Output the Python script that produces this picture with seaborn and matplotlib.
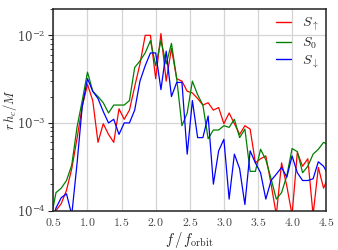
import matplotlib
matplotlib.use("Agg")
import matplotlib.pyplot as plt
import matplotlib.ticker as mticker
import numpy as np
import pandas as pd
import seaborn as sns

# frequency grid (f / f_orbit)
freq = [0.462, 0.538, 0.615, 0.692, 0.769, 0.846, 0.923, 1.0, 1.077, 1.154,
        1.231, 1.308, 1.385, 1.462, 1.538, 1.615, 1.692, 1.769, 1.846, 1.923,
        2.0, 2.077, 2.154, 2.231, 2.308, 2.385, 2.462, 2.538, 2.615, 2.692,
        2.769, 2.846, 2.923, 3.0, 3.077, 3.154, 3.231, 3.308, 3.385, 3.462,
        3.538, 3.615, 3.692, 3.769, 3.846, 3.923, 4.0, 4.077, 4.154, 4.231,
        4.308, 4.385, 4.462, 4.538]

s_up = [6.3e-5, 1.0e-4, 1.2e-4, 1.7e-4, 3.0e-4, 6.6e-4, 1.55e-3, 2.75e-3, 1.8e-3, 6.0e-4,
        9.8e-4, 7.4e-4, 6.0e-4, 1.45e-3, 1.1e-3, 1.4e-3, 2.6e-3, 4.7e-3, 1.0e-2, 1.0e-2,
        3.2e-3, 1.05e-2, 3.0e-3, 7.1e-3, 3.2e-3, 3.0e-3, 2.3e-3, 2.2e-3, 1.9e-3, 1.6e-3,
        1.7e-3, 1.4e-3, 1.5e-3, 9.8e-4, 1.3e-3, 9.8e-4, 7.4e-4, 9.3e-4, 8.5e-4, 3.5e-4,
        3.9e-4, 4.2e-4, 2.0e-4, 8.9e-5, 3.5e-4, 1.9e-4, 8.9e-5, 4.6e-4, 3.2e-4, 3.9e-4,
        8.9e-5, 3.1e-4, 1.8e-4, 2.5e-4]

s_zero = [7.9e-5, 1.6e-4, 1.8e-4, 2.2e-4, 3.3e-4, 8.9e-4, 1.8e-3, 3.8e-3, 2.3e-3, 2.0e-3,
          1.7e-3, 1.3e-3, 1.6e-3, 1.6e-3, 1.6e-3, 1.8e-3, 4.3e-3, 5.1e-3, 6.3e-3, 8.7e-3,
          4.5e-3, 8.7e-3, 4.7e-3, 8.1e-3, 3.2e-3, 9.3e-4, 1.3e-3, 3.0e-3, 2.1e-3, 1.6e-3,
          6.6e-4, 8.3e-4, 8.3e-4, 9.3e-4, 8.9e-4, 1.1e-3, 6.8e-4, 8.5e-4, 2.8e-4, 2.8e-4,
          5.0e-4, 3.8e-4, 2.3e-4, 1.35e-4, 1.6e-4, 2.5e-4, 5.1e-4, 4.7e-4, 2.7e-4, 3.2e-4,
          4.4e-4, 5.0e-4, 6.0e-4, 5.6e-4]

s_down = [6.3e-5, 1.07e-4, 1.4e-4, 1.55e-4, 8.9e-5, 3.4e-4, 1.55e-3, 3.2e-3, 2.3e-3, 1.9e-3,
          1.35e-3, 1.0e-3, 1.1e-3, 7.4e-4, 1.0e-3, 1.0e-3, 1.4e-3, 3.0e-3, 4.5e-3, 6.3e-3,
          6.3e-3, 2.4e-3, 6.6e-3, 2.0e-3, 2.9e-3, 2.9e-3, 4.4e-4, 1.8e-3, 6.8e-4, 6.8e-4,
          1.2e-3, 2.0e-4, 4.8e-4, 6.5e-4, 1.35e-4, 4.4e-4, 3.0e-4, 1.17e-4, 4.8e-4, 3.5e-4,
          2.7e-4, 1.35e-4, 2.2e-4, 2.6e-4, 3.1e-4, 2.4e-4, 4.2e-4, 2.7e-4, 2.2e-4, 2.2e-4,
          2.3e-4, 3.6e-4, 3.2e-4, 2.5e-4]

series_labels = [r"$S_{\uparrow}$", r"$S_{0}$", r"$S_{\downarrow}$"]
series_colors = ["#ff0000", "#008000", "#0000ff"]

x_ticks = [0.5, 1.0, 1.5, 2.0, 2.5, 3.0, 3.5, 4.0, 4.5]

df = pd.concat([
    pd.DataFrame({"f": freq, "rhc": vals, "spin": lab})
    for vals, lab in zip([s_up, s_zero, s_down], series_labels)
], ignore_index=True)

sns.set_style("whitegrid")
plt.rcParams["font.family"] = ["DejaVu Serif"]
plt.rcParams["mathtext.fontset"] = "cm"

fig = plt.figure(figsize=(3.38, 2.50), dpi=100)
ax = fig.add_axes([0.158, 0.158, 0.807, 0.806])

sns.lineplot(data=df, x="f", y="rhc", hue="spin", hue_order=series_labels,
             palette=series_colors, linewidth=0.9, ax=ax, sort=False,
             estimator=None)

ax.set_yscale("log")
ax.set_xlim(0.5, 4.5)
ax.set_ylim(1e-4, 2e-2)
ax.set_xticks(x_ticks)
ax.xaxis.set_major_formatter(mticker.FuncFormatter(lambda v, p: rf"${v:.1f}$"))
ax.yaxis.set_major_locator(mticker.LogLocator(base=10, numticks=10))
ax.yaxis.set_minor_locator(mticker.LogLocator(base=10, subs=np.arange(2, 10), numticks=20))
ax.yaxis.set_minor_formatter(mticker.NullFormatter())

ax.grid(True, which="major", color="#d4d4d4", linewidth=0.9)
ax.grid(False, which="minor")
for sp in ax.spines.values():
    sp.set_color("#222222")
    sp.set_linewidth(1.1)

ax.tick_params(axis="x", which="both", length=0, labelsize=8.5, pad=4, colors="#222222")
ax.tick_params(axis="y", which="major", direction="out", length=3.5, width=0.8,
               labelsize=8.5, left=True, colors="#222222", pad=2)
ax.tick_params(axis="y", which="minor", direction="out", length=2, width=0.6, left=True,
               colors="#222222")
for lab in ax.get_xticklabels() + ax.get_yticklabels():
    lab.set_color("#444444")

ax.set_xlabel(r"$f\,/\,f_{\rm orbit}$", fontsize=10.5, labelpad=1)
ax.set_ylabel(r"$r\,h_c/M$", fontsize=9)
ax.yaxis.set_label_coords(-0.127, 0.5)

leg = ax.legend(loc="upper right", frameon=False, fontsize=10, handlelength=1.1,
                handletextpad=0.8, labelspacing=0.15, borderaxespad=0.3,
                borderpad=0.2)
for line in leg.get_lines():
    line.set_linewidth(1.0)

fig.savefig("out.png", dpi=100)
